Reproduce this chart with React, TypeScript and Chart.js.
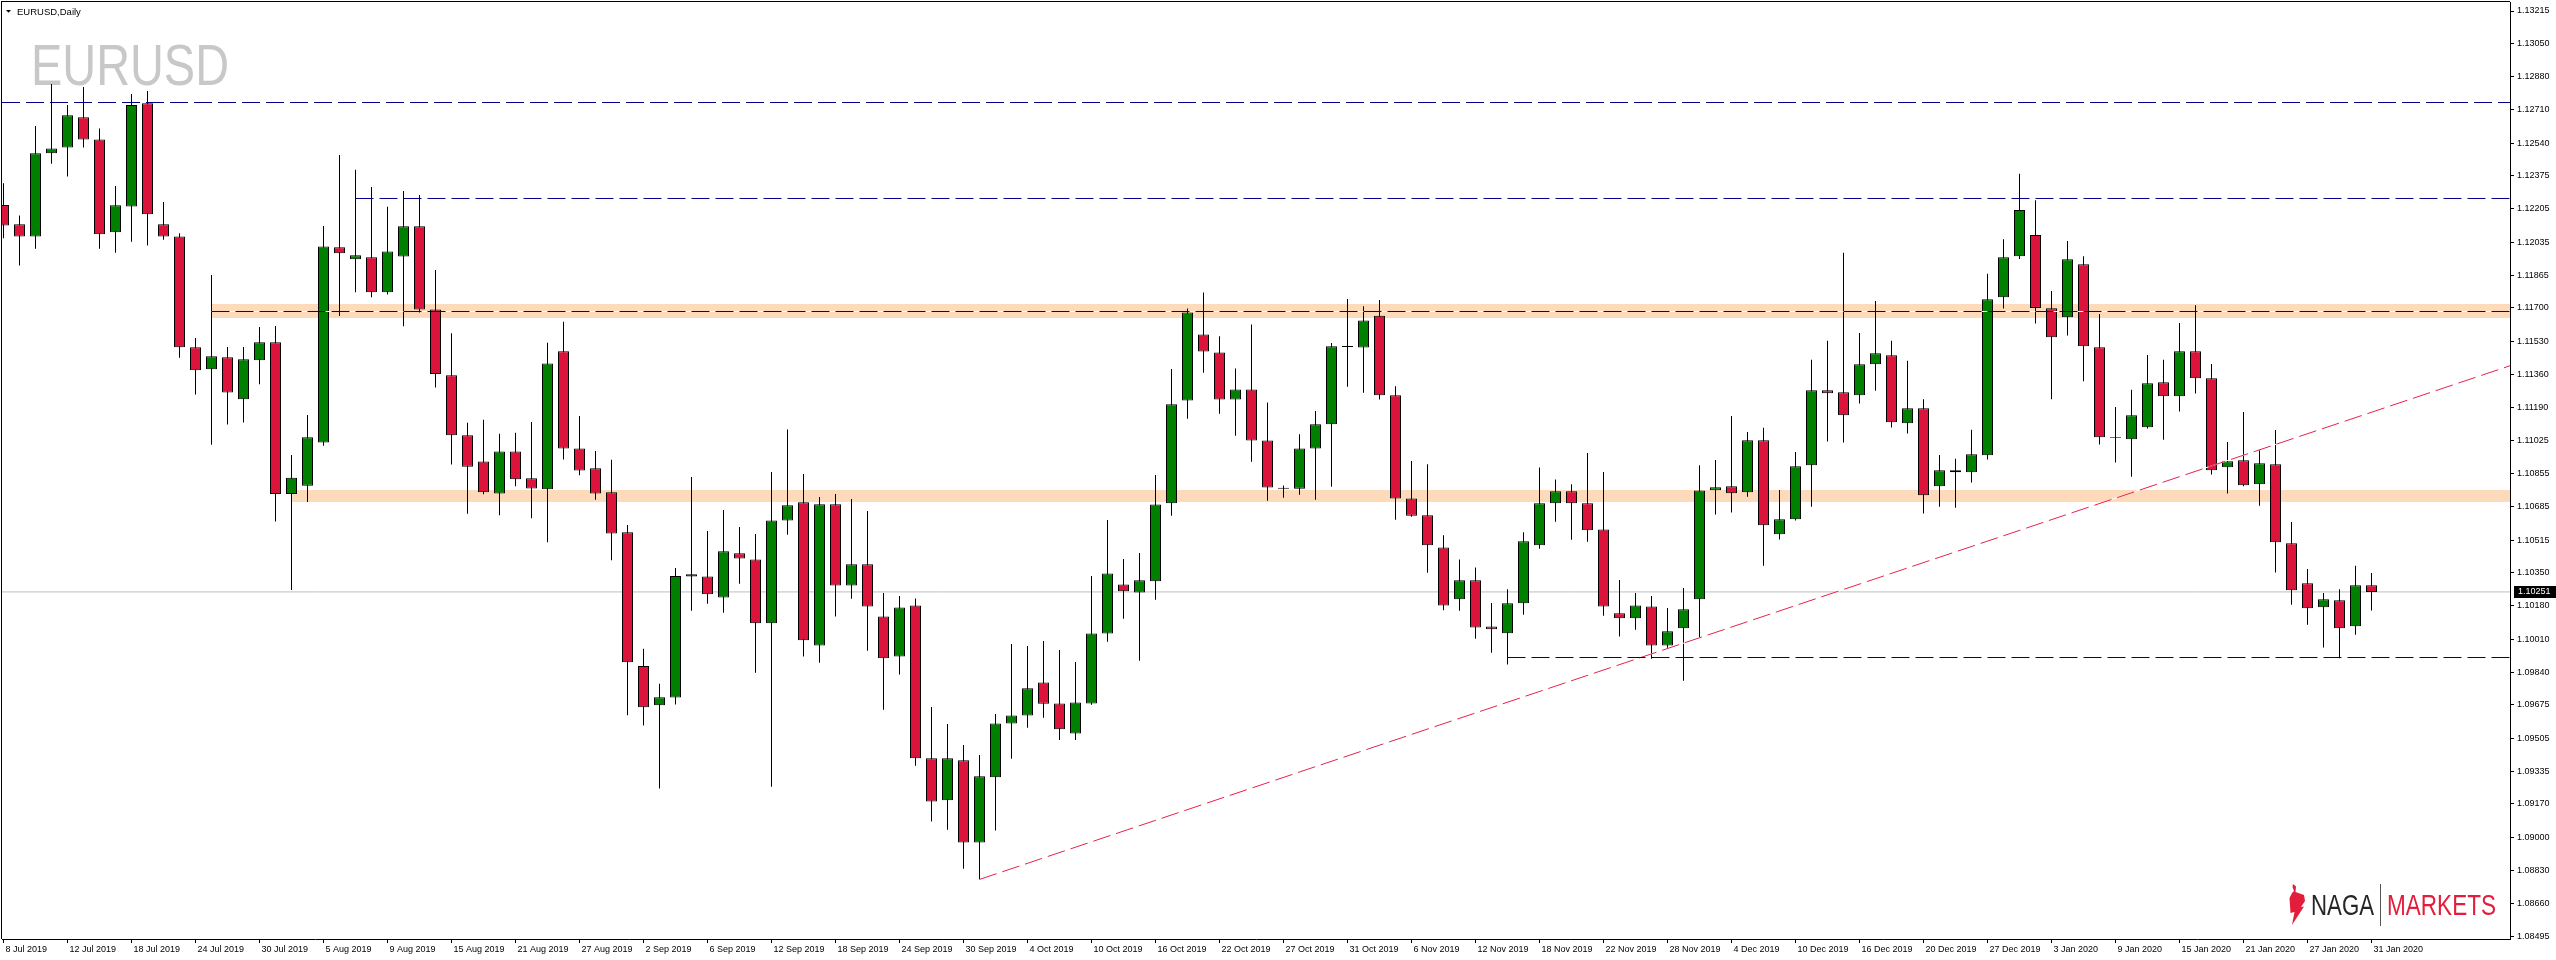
import React, { useEffect, useRef } from 'react';
import { Chart, registerables } from 'chart.js';

Chart.register(...registerables);

const SYMBOL = 'EURUSD';
const TIMEFRAME = 'Daily';

// Daily candles, bar 0 = 8 Jul 2019 ... bar 148 = 31 Jan 2020
const opens = [
  1.12225, 1.12127, 1.12065, 1.12489, 1.12519, 1.12673, 1.12560, 1.12086, 1.12218, 1.12744,
  1.12127, 1.12065, 1.11499, 1.11387, 1.11448, 1.11234, 1.11433, 1.11525, 1.10751, 1.10793,
  1.11014, 1.12009, 1.11949, 1.11958, 1.11780, 1.11962, 1.12117, 1.11692, 1.11357, 1.11050,
  1.10917, 1.10753, 1.10968, 1.10831, 1.10775, 1.11479, 1.10983, 1.10882, 1.10760, 1.10556,
  1.09873, 1.09673, 1.09712, 1.10341, 1.10330, 1.10222, 1.10448, 1.10417, 1.10091, 1.10616,
  1.10708, 1.09977, 1.10698, 1.10284, 1.10392, 1.10126, 1.09921, 1.10182, 1.09402, 1.09188,
  1.09392, 1.08973, 1.09305, 1.09580, 1.09621, 1.09789, 1.09682, 1.09529, 1.09682, 1.10039,
  1.10289, 1.10248, 1.10305, 1.10703, 1.11228, 1.11565, 1.11473, 1.11233, 1.11284, 1.11024,
  1.10777, 1.10777, 1.10983, 1.11106, 1.11506, 1.11498, 1.11660, 1.11254, 1.10728, 1.10642,
  1.10478, 1.10213, 1.10310, 1.10075, 1.10040, 1.10193, 1.10489, 1.10703, 1.10764, 1.10703,
  1.10570, 1.10142, 1.10116, 1.10177, 1.09978, 1.10065, 1.10213, 1.10770, 1.10790, 1.10760,
  1.11025, 1.10545, 1.10622, 1.10897, 1.11280, 1.11270, 1.11254, 1.11413, 1.11459, 1.11112,
  1.11188, 1.10790, 1.10872, 1.10862, 1.10948, 1.11755, 1.11964, 1.12072, 1.11698, 1.11652,
  1.11923, 1.11499, 1.11040, 1.11030, 1.11091, 1.11321, 1.11249, 1.11479, 1.11341, 1.10887,
  1.10923, 1.10800, 1.10902, 1.10499, 1.10295, 1.10173, 1.10208, 1.10076, 1.10285,
];
const highs = [
  1.12336, 1.12172, 1.12628, 1.12843, 1.12735, 1.12827, 1.12616, 1.12322, 1.12792, 1.12807,
  1.12241, 1.12081, 1.11547, 1.11868, 1.11501, 1.11501, 1.11603, 1.11608, 1.10950, 1.11154,
  1.12118, 1.12480, 1.12405, 1.12317, 1.12216, 1.12297, 1.12276, 1.11894, 1.11571, 1.11114,
  1.11129, 1.11058, 1.11063, 1.11118, 1.11522, 1.11629, 1.11148, 1.10970, 1.10925, 1.10592,
  1.09961, 1.09783, 1.10373, 1.10837, 1.10562, 1.10669, 1.10582, 1.10546, 1.10863, 1.11080,
  1.10853, 1.10735, 1.10750, 1.10725, 1.10664, 1.10245, 1.10230, 1.10218, 1.09664, 1.09577,
  1.09470, 1.09419, 1.09628, 1.09985, 1.09975, 1.10000, 1.09954, 1.09893, 1.10332, 1.10618,
  1.10419, 1.10449, 1.10847, 1.11388, 1.11697, 1.11779, 1.11555, 1.11391, 1.11616, 1.11218,
  1.10794, 1.11056, 1.11174, 1.11521, 1.11745, 1.11708, 1.11740, 1.11300, 1.10919, 1.10903,
  1.10540, 1.10417, 1.10376, 1.10194, 1.10264, 1.10555, 1.10886, 1.10825, 1.10800, 1.10960,
  1.10863, 1.10312, 1.10245, 1.10230, 1.10169, 1.10271, 1.10897, 1.10924, 1.11149, 1.11067,
  1.11088, 1.10771, 1.10965, 1.11435, 1.11532, 1.11981, 1.11572, 1.11736, 1.11532, 1.11430,
  1.11234, 1.10950, 1.10930, 1.11078, 1.11874, 1.12050, 1.12385, 1.12250, 1.11787, 1.12042,
  1.11964, 1.11669, 1.11195, 1.11282, 1.11460, 1.11435, 1.11623, 1.11714, 1.11414, 1.11016,
  1.11169, 1.10977, 1.11077, 1.10608, 1.10368, 1.10246, 1.10265, 1.10384, 1.10348,
];
const lows = [
  1.12055, 1.11916, 1.12002, 1.12436, 1.12370, 1.12518, 1.12002, 1.11982, 1.12038, 1.12018,
  1.12048, 1.11446, 1.11258, 1.11002, 1.11105, 1.11115, 1.11310, 1.10610, 1.10261, 1.10710,
  1.10997, 1.11659, 1.11780, 1.11754, 1.11769, 1.11606, 1.11677, 1.11294, 1.10901, 1.10650,
  1.10749, 1.10642, 1.10790, 1.10627, 1.10504, 1.10927, 1.10846, 1.10721, 1.10412, 1.09622,
  1.09570, 1.09248, 1.09677, 1.10155, 1.10191, 1.10145, 1.10293, 1.09839, 1.09257, 1.10543,
  1.09921, 1.09890, 1.10125, 1.10216, 1.09951, 1.09650, 1.09829, 1.09364, 1.09079, 1.09038,
  1.08839, 1.08784, 1.09033, 1.09400, 1.09558, 1.09609, 1.09495, 1.09495, 1.09675, 1.09997,
  1.10114, 1.09900, 1.10211, 1.10640, 1.11135, 1.11369, 1.11160, 1.11048, 1.10915, 1.10716,
  1.10731, 1.10747, 1.10721, 1.10788, 1.11298, 1.11267, 1.11233, 1.10619, 1.10635, 1.10349,
  1.10157, 1.10155, 1.10012, 1.09941, 1.09881, 1.10135, 1.10471, 1.10609, 1.10517, 1.10507,
  1.10130, 1.10023, 1.10058, 1.09910, 1.09966, 1.09798, 1.10019, 1.10646, 1.10656, 1.10737,
  1.10385, 1.10518, 1.10615, 1.10686, 1.11018, 1.11013, 1.11212, 1.11278, 1.11090, 1.11059,
  1.10651, 1.10686, 1.10681, 1.10809, 1.10926, 1.11697, 1.11950, 1.11620, 1.11234, 1.11559,
  1.11326, 1.11003, 1.10911, 1.10839, 1.11085, 1.11028, 1.11171, 1.11263, 1.10850, 1.10753,
  1.10790, 1.10691, 1.10350, 1.10186, 1.10084, 1.09967, 1.09913, 1.10033, 1.10156,
];
const closes = [
  1.12121, 1.12065, 1.12489, 1.12514, 1.12683, 1.12560, 1.12076, 1.12224, 1.12735, 1.12178,
  1.12065, 1.11499, 1.11382, 1.11453, 1.11269, 1.11438, 1.11525, 1.10751, 1.10834, 1.11040,
  1.12014, 1.11979, 1.11969, 1.11780, 1.11988, 1.12117, 1.11692, 1.11363, 1.11050, 1.10889,
  1.10760, 1.10968, 1.10826, 1.10779, 1.11417, 1.10983, 1.10871, 1.10753, 1.10549, 1.09892,
  1.09662, 1.09714, 1.10332, 1.10330, 1.10239, 1.10458, 1.10422, 1.10091, 1.10616, 1.10693,
  1.10004, 1.10698, 1.10284, 1.10392, 1.10177, 1.09912, 1.10172, 1.09402, 1.09182, 1.09402,
  1.08973, 1.09310, 1.09580, 1.09621, 1.09759, 1.09680, 1.09550, 1.09687, 1.10039, 1.10345,
  1.10254, 1.10310, 1.10697, 1.11208, 1.11677, 1.11478, 1.11233, 1.11284, 1.11024, 1.10784,
  1.10782, 1.10983, 1.11106, 1.11504, 1.11501, 1.11636, 1.11254, 1.10728, 1.10640, 1.10489,
  1.10182, 1.10310, 1.10070, 1.10060, 1.10193, 1.10509, 1.10703, 1.10764, 1.10703, 1.10565,
  1.10177, 1.10116, 1.10182, 1.09978, 1.10050, 1.10162, 1.10769, 1.10785, 1.10754, 1.11025,
  1.10591, 1.10622, 1.10892, 1.11280, 1.11265, 1.11152, 1.11413, 1.11469, 1.11117, 1.11188,
  1.10744, 1.10872, 1.10862, 1.10953, 1.11744, 1.11959, 1.12200, 1.11700, 1.11550, 1.11948,
  1.11504, 1.11040, 1.11036, 1.11152, 1.11316, 1.11249, 1.11479, 1.11341, 1.10872, 1.10918,
  1.10795, 1.10907, 1.10504, 1.10259, 1.10168, 1.10214, 1.10066, 1.10285, 1.10251,
];

const xTickBars = [0, 4, 8, 12, 16, 20, 24, 28, 32, 36, 40, 44, 48, 52, 56, 60, 64, 68, 72, 76,
  80, 84, 88, 92, 96, 100, 104, 108, 112, 116, 120, 124, 128, 132, 136, 140, 144, 148];
const xTickLabels = ['8 Jul 2019', '12 Jul 2019', '18 Jul 2019', '24 Jul 2019', '30 Jul 2019',
  '5 Aug 2019', '9 Aug 2019', '15 Aug 2019', '21 Aug 2019', '27 Aug 2019', '2 Sep 2019',
  '6 Sep 2019', '12 Sep 2019', '18 Sep 2019', '24 Sep 2019', '30 Sep 2019', '4 Oct 2019',
  '10 Oct 2019', '16 Oct 2019', '22 Oct 2019', '27 Oct 2019', '31 Oct 2019', '6 Nov 2019',
  '12 Nov 2019', '18 Nov 2019', '22 Nov 2019', '28 Nov 2019', '4 Dec 2019', '10 Dec 2019',
  '16 Dec 2019', '20 Dec 2019', '27 Dec 2019', '3 Jan 2020', '9 Jan 2020', '15 Jan 2020',
  '21 Jan 2020', '27 Jan 2020', '31 Jan 2020'];
const yTickLabels = ['1.13215', '1.13050', '1.12880', '1.12710', '1.12540', '1.12375', '1.12205',
  '1.12035', '1.11865', '1.11700', '1.11530', '1.11360', '1.11190', '1.11025', '1.10855',
  '1.10685', '1.10515', '1.10350', '1.10180', '1.10010', '1.09840', '1.09675', '1.09505',
  '1.09335', '1.09170', '1.09000', '1.08830', '1.08660', '1.08495'];

// drawn levels
const levelTopPrice = 1.127482;
const levelSecondPrice = 1.122584;
const levelSecondStart = 22;
const bandUpperPrices = [1.117201, 1.116486];
const bandUpperLine = 1.116818;
const bandUpperStart = 13;
const bandLowerPrices = [1.10771, 1.107098];
const bandLowerStart = 18;
const supportPrice = 1.099163;
const supportStart = 94;
const trendBars = [61, 156.66];
const trendPrices = [1.08784, 1.11405];
const lastPrice = 1.10251;

const W = 2556;
const H = 960;
const X_MIN = -0.09375;
const X_MAX = 156.65625;
const Y_MIN = 1.0848;
const Y_MAX = 1.13261;

const BULL = '#008000';
const BEAR = '#DC143C';
const NAVY = '#00008B';
const PEACH = 'rgb(253,218,185)';
const TREND = '#E5224B';
const FONT = '"Liberation Sans", Arial, sans-serif';

function hLine(data: { x: number; y: number }[], color: string, dash: number[], order: number) {
  return {
    type: 'line' as const,
    data,
    borderColor: color,
    backgroundColor: color,
    borderWidth: 1,
    borderDash: dash,
    pointRadius: 0,
    pointHoverRadius: 0,
    fill: false,
    tension: 0,
    order,
  };
}

function band(prices: number[], from: number) {
  return [
    {
      type: 'line' as const,
      data: [{ x: from, y: prices[0] }, { x: X_MAX, y: prices[0] }],
      borderWidth: 0,
      borderColor: 'rgba(0,0,0,0)',
      backgroundColor: PEACH,
      pointRadius: 0,
      fill: '+1',
      tension: 0,
      order: 10,
    },
    {
      type: 'line' as const,
      data: [{ x: from, y: prices[1] }, { x: X_MAX, y: prices[1] }],
      borderWidth: 0,
      borderColor: 'rgba(0,0,0,0)',
      pointRadius: 0,
      fill: false,
      tension: 0,
      order: 10,
    },
  ];
}

function drawScaledText(ctx: CanvasRenderingContext2D, text: string, x: number, y: number, width: number, color: string) {
  const m = ctx.measureText(text).width;
  ctx.save();
  ctx.translate(x, y);
  ctx.scale(width / m, 1);
  ctx.fillStyle = color;
  ctx.fillText(text, 0, 0);
  ctx.restore();
}

const decor = {
  id: 'decor',
  beforeDatasetsDraw(chart: any) {
    const ctx = chart.ctx as CanvasRenderingContext2D;
    ctx.save();
    ctx.font = `58px ${FONT}`;
    ctx.textBaseline = 'alphabetic';
    drawScaledText(ctx, SYMBOL, 31, 85, 198, '#C8C8C8');
    ctx.restore();
  },
  afterDraw(chart: any) {
    const ctx = chart.ctx as CanvasRenderingContext2D;
    const { left, top, right, bottom } = chart.chartArea;
    ctx.save();
    ctx.fillStyle = '#000';
    ctx.fillRect(left - 1, top - 1, right - left + 1, 1);
    ctx.fillRect(left - 1, top - 1, 1, bottom - top + 1);
    // title
    ctx.beginPath();
    ctx.moveTo(6, 10);
    ctx.lineTo(11, 10);
    ctx.lineTo(8.5, 12.8);
    ctx.closePath();
    ctx.fill();
    ctx.font = `9.5px ${FONT}`;
    ctx.textBaseline = 'alphabetic';
    ctx.fillText(`${SYMBOL},${TIMEFRAME}`, 17, 14.5);
    // price box
    const y = chart.scales.y.getPixelForValue(lastPrice);
    ctx.fillStyle = '#000';
    ctx.fillRect(right + 4, Math.round(y) - 6, W - right - 4, 12);
    ctx.fillStyle = '#fff';
    ctx.font = `9px ${FONT}`;
    ctx.textBaseline = 'middle';
    ctx.fillText(lastPrice.toFixed(5), right + 8, y);
    // logo
    ctx.fillStyle = '#E31E3C';
    ctx.beginPath();
    const pts = [[2293, 884], [2296, 886.5], [2295.5, 892], [2304, 895], [2305, 901], [2301, 907],
      [2304, 906.5], [2292, 925], [2294.5, 912], [2290.5, 913], [2289.5, 898], [2292, 893], [2294, 891], [2292.5, 887]];
    pts.forEach((p, i) => (i === 0 ? ctx.moveTo(p[0], p[1]) : ctx.lineTo(p[0], p[1])));
    ctx.closePath();
    ctx.fill();
    ctx.font = `29px ${FONT}`;
    ctx.textBaseline = 'alphabetic';
    drawScaledText(ctx, 'NAGA', 2311, 915, 63, '#262626');
    ctx.fillStyle = '#555';
    ctx.fillRect(2380, 884, 1, 42);
    drawScaledText(ctx, 'MARKETS', 2387, 915, 109, '#E31E3C');
    ctx.restore();
  },
};

export default function App() {
  const ref = useRef<HTMLCanvasElement | null>(null);

  useEffect(() => {
    if (!ref.current) return;
    Chart.defaults.font.family = FONT;

    const bodyColors = opens.map((o, i) =>
      Math.abs(closes[i] - o) < 0.00006 ? '#000' : closes[i] >= o ? BULL : BEAR
    );

    const datasets: any[] = [
      ...band(bandUpperPrices, bandUpperStart),
      ...band(bandLowerPrices, bandLowerStart),
      hLine([{ x: X_MIN, y: lastPrice }, { x: X_MAX, y: lastPrice }], '#BDBDBD', [], 8),
      {
        type: 'bar',
        data: lows.map((l, i) => ({ x: i, y: [l, highs[i]] })),
        backgroundColor: '#000',
        borderWidth: 0,
        barThickness: 1,
        maxBarThickness: 1,
        grouped: false,
        inflateAmount: 0,
        order: 5,
      },
      {
        type: 'bar',
        data: opens.map((o, i) => ({ x: i, y: [o, closes[i]] })),
        backgroundColor: bodyColors,
        borderColor: '#000',
        borderWidth: 1,
        borderSkipped: false,
        barThickness: 11,
        maxBarThickness: 11,
        grouped: false,
        inflateAmount: 0,
        order: 4,
      },
      hLine([{ x: X_MIN, y: levelTopPrice }, { x: X_MAX, y: levelTopPrice }], NAVY, [18, 6], 1),
      hLine([{ x: levelSecondStart, y: levelSecondPrice }, { x: X_MAX, y: levelSecondPrice }], NAVY, [18, 6], 1),
      hLine([{ x: bandUpperStart, y: bandUpperLine }, { x: X_MAX, y: bandUpperLine }], '#FFFFFF', [], 2),
      hLine([{ x: bandUpperStart, y: bandUpperLine }, { x: X_MAX, y: bandUpperLine }], NAVY, [18, 6], 1),
      hLine([{ x: supportStart, y: supportPrice }, { x: X_MAX, y: supportPrice }], NAVY, [18, 6], 1),
      hLine([{ x: trendBars[0], y: trendPrices[0] }, { x: trendBars[1], y: trendPrices[1] }], '#FFFFFF', [], 2),
      hLine([{ x: trendBars[0], y: trendPrices[0] }, { x: trendBars[1], y: trendPrices[1] }], TREND, [18, 6], 1),
    ];

    const chart = new Chart(ref.current, {
      type: 'bar',
      data: { datasets },
      options: {
        animation: false,
        responsive: false,
        devicePixelRatio: 1,
        events: [],
        layout: { padding: { left: 2, top: 2, right: 0, bottom: 0 } },
        plugins: { legend: { display: false }, tooltip: { enabled: false } },
        scales: {
          x: {
            type: 'linear',
            position: 'bottom',
            min: X_MIN,
            max: X_MAX,
            offset: false,
            grid: { drawOnChartArea: false, drawTicks: true, tickLength: 4, color: '#000', offset: false },
            border: { display: true, color: '#000', width: 1 },
            ticks: {
              autoSkip: false,
              maxRotation: 0,
              minRotation: 0,
              align: 'start',
              labelOffset: 2,
              padding: 1,
              color: '#000',
              font: { size: 9, family: FONT },
              callback: (_v: any, i: number) => xTickLabels[i],
            },
            afterBuildTicks: (s: any) => {
              s.ticks = xTickBars.map((v) => ({ value: v }));
            },
            afterFit: (s: any) => {
              s.height = 21;
              s.paddingLeft = 0;
              s.paddingRight = 0;
            },
          },
          y: {
            type: 'linear',
            position: 'right',
            min: Y_MIN,
            max: Y_MAX,
            grid: { drawOnChartArea: false, drawTicks: true, tickLength: 4, color: '#000' },
            border: { display: true, color: '#000', width: 1 },
            ticks: {
              autoSkip: false,
              padding: 3,
              color: '#000',
              font: { size: 9, family: FONT },
              callback: (_v: any, i: number) => yTickLabels[i],
            },
            afterBuildTicks: (s: any) => {
              s.ticks = yTickLabels.map((l) => ({ value: parseFloat(l) }));
            },
            afterFit: (s: any) => {
              s.width = 46;
              s.paddingTop = 0;
              s.paddingBottom = 0;
            },
          },
        },
      } as any,
      plugins: [decor],
    });
    return () => chart.destroy();
  }, []);

  return (
    <div style={{ position: 'fixed', left: 0, top: 0, width: W, height: H, background: '#fff' }}>
      <canvas ref={ref} width={W} height={H} style={{ display: 'block', width: W, height: H }} />
    </div>
  );
}
